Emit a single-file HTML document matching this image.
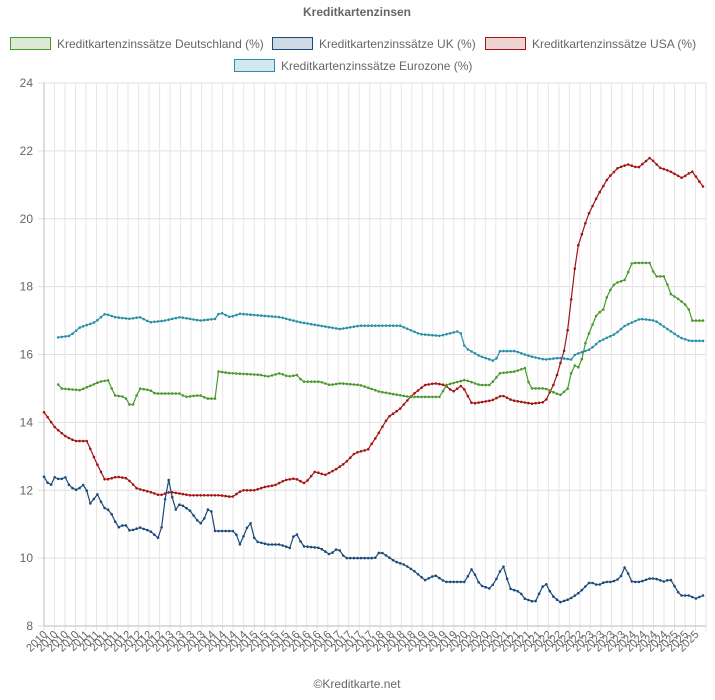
<!DOCTYPE html>
<html><head><meta charset="utf-8"><style>
body{margin:0;background:#fff;font-family:"Liberation Sans",Arial,sans-serif}
svg{display:block}
</style></head><body>
<svg id="s" width="715" height="700" xmlns="http://www.w3.org/2000/svg" font-family="Liberation Sans, Arial, sans-serif">
<text x="357" y="16" text-anchor="middle" font-size="12" font-weight="bold" fill="#666">Kreditkartenzinsen</text>
<rect x="10.5" y="37.5" width="40" height="12" fill="#dbe9d5" stroke="#4a9a2e" stroke-width="1"/>
<text x="57" y="48" font-size="12" fill="#666">Kreditkartenzinssätze Deutschland (%)</text>
<rect x="272.5" y="37.5" width="40" height="12" fill="#cfd9e3" stroke="#1c4a7a" stroke-width="1"/>
<text x="319" y="48" font-size="12" fill="#666">Kreditkartenzinssätze UK (%)</text>
<rect x="485.5" y="37.5" width="40" height="12" fill="#eed3d3" stroke="#a31515" stroke-width="1"/>
<text x="532" y="48" font-size="12" fill="#666">Kreditkartenzinssätze USA (%)</text>
<rect x="234.5" y="59.5" width="40" height="12" fill="#d1e8ee" stroke="#2a8fa8" stroke-width="1"/>
<text x="281" y="70" font-size="12" fill="#666">Kreditkartenzinssätze Eurozone (%)</text>
<g id="grid"></g>
<g id="series"></g>
<text x="357" y="688" text-anchor="middle" font-size="12" fill="#666">©Kreditkarte.net</text>
</svg>
<script>
var NS="http://www.w3.org/2000/svg";
var X0=44,X1=706,Y24=83,Y8=626;
function yv(v){return Y8-(v-8)*(Y8-Y24)/16;}
var g=document.getElementById('grid'),h='';
for(var v=8;v<=24;v+=2){var y=yv(v).toFixed(1);
h+='<line x1="38" x2="'+X1+'" y1="'+y+'" y2="'+y+'" stroke="#e0e0e0"/>';
h+='<text x="33" y="'+(+y+4)+'" text-anchor="end" font-size="12" fill="#666">'+v+'</text>';}
var N=63;
for(var i=0;i<=N;i++){var x=(X0+i*(X1-X0)/N).toFixed(1);
h+='<line x1="'+x+'" x2="'+x+'" y1="'+Y24+'" y2="'+(Y8+5)+'" stroke="#e6e6e6"/>';
if(i<N){var yr=2010+Math.floor(i/4);
h+='<text transform="translate('+(+x+4)+','+(Y8+9)+') rotate(-45)" text-anchor="end" font-size="11" fill="#666">'+yr+'</text>';}}
h+='<line x1="'+X0+'" x2="'+X0+'" y1="'+Y24+'" y2="'+Y8+'" stroke="#bbb"/>';
h+='<line x1="'+X0+'" x2="'+X1+'" y1="'+Y8+'" y2="'+Y8+'" stroke="#bbb"/>';
g.innerHTML=h;
var D={
us:["#a31515",[[44,14.3],[55,13.85],[65,13.6],[75,13.45],[87,13.45],[95,12.9],[105,12.3],[117,12.4],[127,12.35],[137,12.05],[150,11.95],[160,11.85],[170,11.95],[180,11.9],[190,11.85],[200,11.85],[210,11.85],[220,11.85],[232,11.8],[242,12.0],[255,12.0],[265,12.1],[275,12.15],[285,12.3],[295,12.35],[305,12.2],[315,12.55],[325,12.45],[335,12.6],[345,12.8],[355,13.1],[368,13.2],[378,13.65],[388,14.15],[400,14.4],[412,14.8],[425,15.1],[435,15.15],[445,15.1],[453,14.9],[462,15.1],[472,14.55],[482,14.6],[492,14.65],[502,14.8],[512,14.65],[522,14.6],[532,14.55],[545,14.6],[555,15.2],[566,16.3],[577,19.1],[588,20.1],[598,20.7],[608,21.2],[618,21.5],[628,21.6],[638,21.5],[650,21.8],[660,21.5],[670,21.4],[682,21.2],[692,21.4],[703,20.95]]],
de:["#4a9a2e",[[57,15.2],[60,15.0],[80,14.95],[100,15.2],[110,15.25],[113,14.8],[125,14.75],[130,14.5],[135,14.55],[138,15.0],[150,14.95],[155,14.85],[165,14.85],[180,14.85],[185,14.75],[200,14.8],[207,14.7],[215,14.7],[218,15.5],[230,15.45],[260,15.4],[268,15.35],[280,15.45],[288,15.35],[298,15.4],[302,15.2],[320,15.2],[330,15.1],[340,15.15],[360,15.1],[370,15.0],[380,14.9],[400,14.8],[410,14.75],[440,14.75],[446,15.1],[465,15.25],[480,15.1],[490,15.1],[500,15.45],[515,15.5],[525,15.6],[530,15.0],[545,15.0],[560,14.8],[568,15.0],[573,15.7],[580,15.6],[585,16.3],[590,16.7],[597,17.2],[603,17.3],[608,17.8],[615,18.1],[625,18.2],[632,18.7],[650,18.7],[655,18.3],[665,18.3],[670,17.8],[680,17.6],[688,17.4],[692,17.0],[703,17.0]]],
uk:["#1c4a7a",[[44,12.4],[50,12.1],[55,12.4],[60,12.3],[65,12.4],[70,12.1],[77,12.0],[85,12.2],[90,11.6],[98,11.9],[103,11.5],[110,11.4],[118,10.9],[125,11.0],[130,10.8],[140,10.9],[150,10.8],[160,10.55],[168,12.4],[175,11.4],[180,11.6],[190,11.4],[200,11.0],[205,11.2],[210,11.6],[215,10.8],[225,10.8],[235,10.8],[240,10.4],[250,11.1],[255,10.5],[268,10.4],[280,10.4],[290,10.3],[295,10.8],[303,10.35],[320,10.3],[330,10.1],[338,10.3],[345,10.0],[360,10.0],[375,10.0],[380,10.2],[395,9.9],[405,9.8],[415,9.6],[425,9.35],[435,9.5],[445,9.3],[455,9.3],[465,9.3],[472,9.7],[480,9.2],[490,9.1],[495,9.3],[503,9.8],[510,9.1],[520,9.0],[525,8.8],[535,8.7],[545,9.3],[552,8.9],[560,8.7],[570,8.8],[580,9.0],[590,9.3],[598,9.2],[605,9.3],[612,9.3],[620,9.4],[625,9.75],[632,9.3],[640,9.3],[650,9.4],[655,9.4],[665,9.3],[670,9.4],[680,8.9],[690,8.9],[695,8.8],[703,8.9]]],
eu:["#2a8fa8",[[57,16.5],[70,16.55],[80,16.8],[95,16.95],[105,17.2],[115,17.1],[130,17.05],[140,17.1],[150,16.95],[165,17.0],[180,17.1],[200,17.0],[215,17.05],[220,17.25],[230,17.1],[240,17.2],[260,17.15],[280,17.1],[300,16.95],[320,16.85],[340,16.75],[360,16.85],[380,16.85],[400,16.85],[420,16.6],[440,16.55],[460,16.7],[465,16.2],[480,15.95],[495,15.8],[500,16.1],[515,16.1],[530,15.95],[545,15.85],[560,15.9],[572,15.85],[575,16.0],[590,16.15],[600,16.4],[615,16.6],[625,16.85],[640,17.05],[655,17.0],[670,16.7],[680,16.5],[690,16.4],[703,16.4]]]};
var sg=document.getElementById('series'),out='';
var step=(703-44)/185;
for(var k in D){var c=D[k][0],p=D[k][1],pts=[],m='';
 for(var x=44;x<=703.01;x+=step){if(x<p[0][0]-0.5)continue;
  var j=0;while(j<p.length-2&&p[j+1][0]<x)j++;
  var a=p[j],b=p[j+1],t=Math.max(0,Math.min(1,(x-a[0])/(b[0]-a[0])));
  var y=yv(a[1]+(b[1]-a[1])*t);pts.push(x.toFixed(1)+','+y.toFixed(1));
  m+='<circle cx="'+x.toFixed(1)+'" cy="'+y.toFixed(1)+'" r="1.3" fill="'+c+'"/>';}
 out+='<polyline points="'+pts.join(' ')+'" fill="none" stroke="'+c+'" stroke-width="1.2"/>'+m;}
sg.innerHTML=out;
</script>
</body></html>
